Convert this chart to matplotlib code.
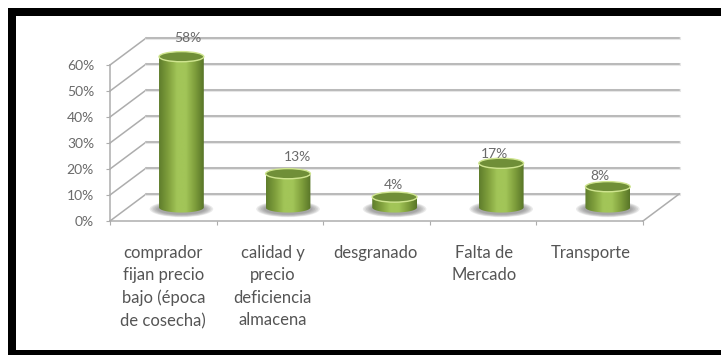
import matplotlib
matplotlib.use('Agg')
import matplotlib.pyplot as plt
import numpy as np
from matplotlib.colors import LinearSegmentedColormap
from matplotlib.patches import Ellipse, PathPatch, Rectangle
from matplotlib.path import Path
from matplotlib.transforms import ScaledTranslation

plt.rcParams['font.family'] = ['Lato', 'DejaVu Sans']

categories = [
    "comprador\nfijan precio\nbajo (época\nde cosecha)",
    "calidad y\nprecio\ndeficiencia\nalmacena",
    "desgranado",
    "Falta de\nMercado",
    "Transporte",
]
values = [58, 13, 4, 17, 8]
y_ticks = [0, 10, 20, 30, 40, 50, 60]

# pixels per unit of the front plane, used to place the axes over the whole figure
W, H = 721, 355
px_x, px_y = 106.6, 2.6
x0_px, y0_px = 110, 221
depth_x, depth_y = 0.34, 10.4  # how far the back wall sits from the front plane
bar_w, cap_h = 0.42, 3.9

fig = plt.figure(figsize=(W / 100, H / 100), dpi=100, facecolor="white")
ax = fig.add_axes([0, 0, 1, 1])
ax.patch.set_alpha(0)

line_col = "#adadad"
n = len(categories)

# walls and floor
for v in y_ticks:
    ax.plot([0, depth_x], [v, v + depth_y], color=line_col, lw=1.1, zorder=1)
    ax.plot([depth_x, n + depth_x], [v + depth_y, v + depth_y], color="#e6e6e6", lw=2.2, zorder=1)
    ax.plot([depth_x, n + depth_x], [v + depth_y, v + depth_y], color=line_col, lw=1.1, zorder=1)
ax.plot([n, n + depth_x], [0, depth_y], color=line_col, lw=1.1, zorder=1)

# axes lines with ticks
for side in ["top", "right"]:
    ax.spines[side].set_visible(False)
ax.spines["left"].set_position(("data", 0))
ax.spines["left"].set_bounds(0, 60)
ax.spines["bottom"].set_position(("data", 0))
ax.spines["bottom"].set_bounds(0, n)
for side in ["left", "bottom"]:
    ax.spines[side].set_color(line_col)
    ax.spines[side].set_linewidth(1.1)
ax.set_yticks(y_ticks)
ax.set_yticklabels([f"{v}%" for v in y_ticks], fontsize=10, color="#6a6a6a")
ax.tick_params(axis="y", length=3, color=line_col, pad=8.5)
ax.set_xticks(np.arange(n + 1))
ax.set_xticklabels([""] * (n + 1))
ax.tick_params(axis="x", which="major", length=3, color=line_col)
ax.set_xticks(np.arange(n) + 0.5, minor=True)
ax.set_xticklabels(categories, minor=True, fontsize=12, color="#555555", linespacing=1.5)
ax.tick_params(axis="x", which="minor", length=0, pad=17)
for lab, shift in zip(ax.get_xticklabels(minor=True), [0, 3, -1, 1, 1]):
    lab.set_transform(lab.get_transform() + ScaledTranslation(shift / 100, 0, fig.dpi_scale_trans))

body_cmap = LinearSegmentedColormap.from_list(
    "body", ["#5f7d2c", "#7f9f3c", "#a2c558", "#a2c558", "#7f9f3c", "#587528"])
grad = np.linspace(0, 1, 128).reshape(1, -1)

# offsets of the value labels in pixels, as placed above each cylinder
label_shift = [(6, 19), (9, 17), (-1, 12), (-7, 9), (-8, 11)]

for i, v in enumerate(values):
    cx = i + 0.5 + depth_x / 2
    cy = depth_y / 2

    # soft shadow on the floor
    for k in range(6):
        ax.add_patch(Ellipse((cx, cy - 0.6), bar_w * (1.42 - 0.07 * k), cap_h * (1.6 - 0.1 * k),
                             color="#6e6e6e", alpha=0.14, lw=0, zorder=2))

    # cylinder side, rounded at the foot
    t = np.linspace(np.pi, 2 * np.pi, 40)
    foot = np.c_[cx + bar_w / 2 * np.cos(t), cy + cap_h / 2 * np.sin(t)]
    head = np.c_[cx + bar_w / 2 * np.cos(t[::-1]), cy + v + cap_h / 2 * np.sin(t[::-1])]
    verts = np.vstack([foot, head, foot[:1]])
    clip = PathPatch(Path(verts), transform=ax.transData, fc="none", ec="none")
    ax.add_patch(clip)
    im = ax.imshow(grad, cmap=body_cmap, aspect="auto", zorder=3, interpolation="bilinear",
                   extent=[cx - bar_w / 2, cx + bar_w / 2, cy - cap_h, cy + v + cap_h])
    im.set_clip_path(clip)

    # top face with its bright rim
    ax.add_patch(Ellipse((cx, cy + v), bar_w, cap_h, fc="#708f38", ec="#cfe58f", lw=1.0, zorder=4))

    ax.annotate(f"{v}%", (cx, cy + v), xytext=label_shift[i], textcoords="offset pixels",
                ha="center", va="center", fontsize=10, color="#6a6a6a", zorder=5)

# imshow resets the limits, so they are set last
ax.set_xlim(-x0_px / px_x, (W - x0_px) / px_x)
ax.set_ylim((y0_px - H) / px_y, y0_px / px_y)

# heavy frame, open on the right
for (x, y, w, h) in [(8, H - 16, W - 8, 8), (8, 0, 8, H - 8), (8, 0, W - 8, 5)]:
    fig.add_artist(Rectangle((x / W, y / H), w / W, h / H, transform=fig.transFigure,
                             fc="black", ec="none"))

plt.savefig("out.png", dpi=100, facecolor="white")
